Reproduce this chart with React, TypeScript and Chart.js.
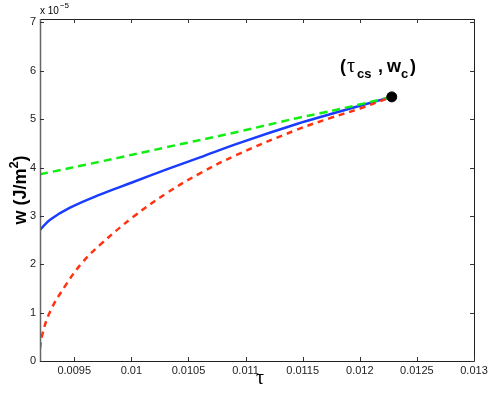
import React, { useEffect, useRef } from "react";
import { Chart, registerables } from "chart.js";

Chart.register(...registerables);

// Values in units of 1e-5 J/m^2
const tauRed = [0.0092, 0.009215, 0.009288, 0.009434, 0.009565, 0.009725, 0.010017, 0.010309, 0.010601, 0.010922, 0.011448, 0.011739, 0.012002, 0.01228];
const wRed = [0.26, 0.5, 1.02, 1.6, 2.02, 2.4, 2.98, 3.47, 3.88, 4.26, 4.78, 5.02, 5.22, 5.46];

const tauBlue = [0.0092, 0.009288, 0.009463, 0.009725, 0.010017, 0.010309, 0.010601, 0.010936, 0.011448, 0.011739, 0.01228];
const wBlue = [2.71, 2.92, 3.17, 3.44, 3.7, 3.96, 4.21, 4.5, 4.9, 5.1, 5.46];

const tauGreen = [0.0092, 0.009725, 0.010309, 0.010936, 0.011448, 0.011652, 0.012031, 0.01228];
const wGreen = [3.86, 4.12, 4.42, 4.74, 5.02, 5.12, 5.32, 5.46];

const tauCs = 0.01228;
const wC = 5.46;

const xTicks = [0.0095, 0.01, 0.0105, 0.011, 0.0115, 0.012, 0.0125, 0.013];
const xTickLabels = ["0.0095", "0.01", "0.0105", "0.011", "0.0115", "0.012", "0.0125", "0.013"];
const yTicks = [0, 1, 2, 3, 4, 5, 6, 7];
const yTickLabels = ["0", "1", "2", "3", "4", "5", "6", "7"];

const SANS = '"Liberation Sans", Arial, Helvetica, sans-serif';
const SERIF = '"Liberation Serif", "Times New Roman", serif';

const toPts = (xs: number[], ys: number[]) => xs.map((x, i) => ({ x, y: ys[i] }));

const boxPlugin = {
  id: "boxPlugin",
  afterDraw(chart: any) {
    const { ctx, chartArea } = chart;
    const { left, right, top, bottom } = chartArea;
    const xs = chart.scales.x;
    const ys = chart.scales.y;
    ctx.save();
    ctx.lineWidth = 1;
    // box
    ctx.strokeStyle = "#222";
    ctx.beginPath();
    ctx.moveTo(Math.round(left) + 0.5, Math.round(bottom) + 0.5);
    ctx.lineTo(Math.round(right) + 0.5, Math.round(bottom) + 0.5);
    ctx.lineTo(Math.round(right) + 0.5, Math.round(top) + 0.5);
    ctx.lineTo(Math.round(left) + 0.5, Math.round(top) + 0.5);
    ctx.stroke();
    ctx.strokeStyle = "#666";
    ctx.lineWidth = 1.5;
    ctx.beginPath();
    ctx.moveTo(Math.round(left) + 0.5, Math.round(top));
    ctx.lineTo(Math.round(left) + 0.5, Math.round(bottom) + 1);
    ctx.stroke();
    ctx.lineWidth = 1;
    ctx.strokeStyle = "#333";
    ctx.beginPath();
    xs.ticks.forEach((t: any) => {
      const px = Math.round(xs.getPixelForValue(t.value)) + 0.5;
      ctx.moveTo(px, bottom);
      ctx.lineTo(px, bottom - 4);
      ctx.moveTo(px, top);
      ctx.lineTo(px, top + 4);
    });
    ys.ticks.forEach((t: any) => {
      const py = Math.round(ys.getPixelForValue(t.value)) + 0.5;
      ctx.moveTo(left, py);
      ctx.lineTo(left + 4, py);
      ctx.moveTo(right, py);
      ctx.lineTo(right - 4, py);
    });
    ctx.stroke();

    ctx.fillStyle = "#000";
    // exponent label
    ctx.font = `10px ${SANS}`;
    ctx.textBaseline = "alphabetic";
    ctx.textAlign = "left";
    ctx.fillText("x 10", 40, 14);
    const w10 = ctx.measureText("x 10").width;
    ctx.font = `8px ${SANS}`;
    ctx.fillText("\u22125", 40 + w10 + 1, 8);

    // y title
    ctx.save();
    ctx.translate(26, 190);
    ctx.rotate(-Math.PI / 2);
    ctx.font = `bold 18px ${SANS}`;
    const a = "w (J/m";
    const b = "2";
    const c = ")";
    const wa = ctx.measureText(a).width;
    const wc = ctx.measureText(c).width;
    ctx.font = `bold 13px ${SANS}`;
    const wb = ctx.measureText(b).width;
    const total = wa + wb + wc;
    const x0 = -total / 2;
    ctx.font = `bold 18px ${SANS}`;
    ctx.fillText(a, x0, 0);
    ctx.font = `bold 13px ${SANS}`;
    ctx.fillText(b, x0 + wa, -8);
    ctx.font = `bold 18px ${SANS}`;
    ctx.fillText(c, x0 + wa + wb, 0);
    ctx.restore();

    // x title
    ctx.font = `20px ${SERIF}`;
    ctx.textAlign = "center";
    ctx.fillText("\u03c4", 260, 384);

    // annotation
    ctx.textAlign = "left";
    const base = 72;
    ctx.font = `bold 18px ${SANS}`;
    ctx.fillText("(", 340, base);
    ctx.font = `20px ${SERIF}`;
    ctx.fillText("\u03c4", 347, base);
    ctx.font = `bold 13px ${SANS}`;
    ctx.fillText("cs", 357, base + 6);
    ctx.font = `bold 18px ${SANS}`;
    ctx.fillText(",", 378, base);
    ctx.fillText("w", 387, base);
    ctx.font = `bold 13px ${SANS}`;
    ctx.fillText("c", 401, base + 6);
    ctx.font = `bold 18px ${SANS}`;
    ctx.fillText(")", 410, base);
    ctx.restore();
  },
};

export default function App() {
  const ref = useRef<HTMLCanvasElement | null>(null);
  useEffect(() => {
    document.body.style.margin = "0";
    const canvas = ref.current;
    if (!canvas) return;
    const chart = new Chart(canvas, {
      type: "line",
      data: {
        datasets: [
          {
            label: "red",
            data: toPts(tauRed, wRed),
            borderColor: "#ff3311",
            borderWidth: 2.5,
            borderDash: [6, 5],
            pointRadius: 0,
            tension: 0.4,
            fill: false,
            order: 1,
          },
          {
            label: "green",
            data: toPts(tauGreen, wGreen),
            borderColor: "#11ee11",
            borderWidth: 2.5,
            borderDash: [8, 5],
            pointRadius: 0,
            tension: 0.4,
            fill: false,
            order: 2,
          },
          {
            label: "blue",
            data: toPts(tauBlue, wBlue),
            borderColor: "#1a3cff",
            borderWidth: 2.5,
            pointRadius: 0,
            tension: 0.4,
            fill: false,
            order: 3,
          },
          {
            label: "critical",
            type: "scatter",
            data: [{ x: tauCs, y: wC }],
            backgroundColor: "#000",
            borderColor: "#000",
            pointRadius: 5,
            order: 0,
          } as any,
        ],
      },
      options: {
        animation: false,
        responsive: false,
        maintainAspectRatio: false,
        layout: { padding: { left: 0, top: 19, right: 14, bottom: 0 } },
        plugins: { legend: { display: false }, tooltip: { enabled: false } },
        scales: {
          x: {
            type: "linear",
            min: 0.0092,
            max: 0.013,
            grid: { display: false, drawTicks: false },
            border: { display: false },
            afterBuildTicks: (s: any) => {
              s.ticks = xTicks.map((v) => ({ value: v }));
            },
            afterFit: (s: any) => {
              s.height = 32;
              s.paddingLeft = 0;
              s.paddingRight = 0;
            },
            ticks: {
              autoSkip: false,
              maxRotation: 0,
              padding: 3,
              color: "#222",
              font: { family: SANS, size: 11 },
              callback: (v: any) => {
                const i = xTicks.findIndex((t) => Math.abs(t - Number(v)) < 1e-9);
                return i >= 0 ? xTickLabels[i] : "";
              },
            },
          },
          y: {
            type: "linear",
            min: 0,
            max: 7.07,
            grid: { display: false, drawTicks: false },
            border: { display: false },
            afterBuildTicks: (s: any) => {
              s.ticks = yTicks.map((v) => ({ value: v }));
            },
            afterFit: (s: any) => {
              s.width = 40;
              s.paddingTop = 0;
              s.paddingBottom = 0;
            },
            ticks: {
              autoSkip: false,
              padding: 4,
              color: "#222",
              font: { family: SANS, size: 11 },
              callback: (v: any) => {
                const i = yTicks.indexOf(Number(v));
                return i >= 0 ? yTickLabels[i] : "";
              },
            },
          },
        },
      },
      plugins: [boxPlugin],
    } as any);
    return () => chart.destroy();
  }, []);
  return <canvas ref={ref} width={488} height={393} style={{ display: "block", width: 488, height: 393 }} />;
}
